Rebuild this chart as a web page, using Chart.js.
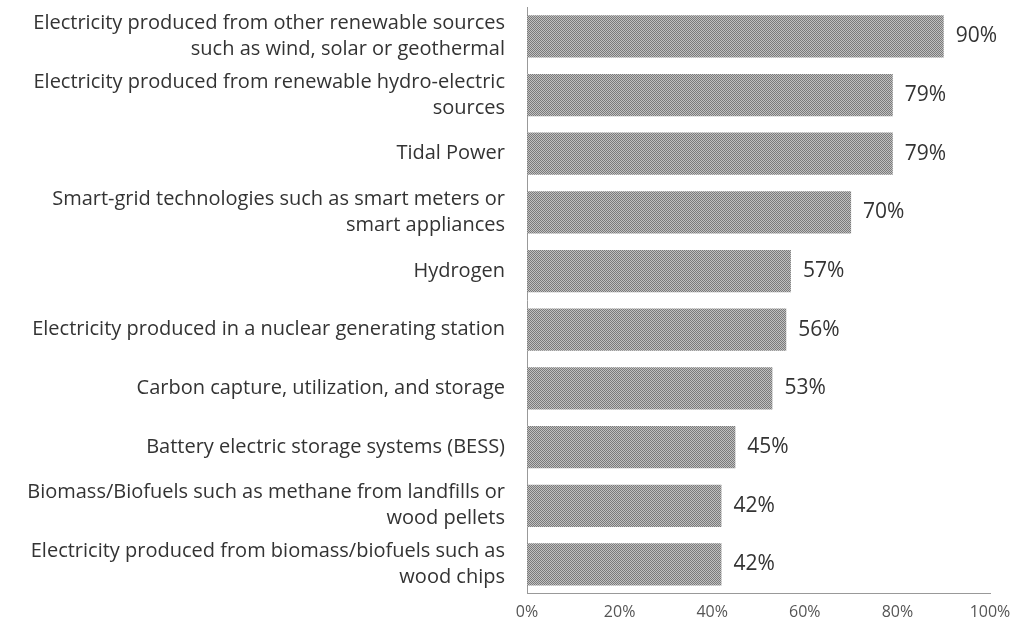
<!DOCTYPE html>
<html>
<head>
<meta charset="utf-8">
<script src="https://cdn.jsdelivr.net/npm/chart.js@4"></script>
<style>
  html, body { margin: 0; padding: 0; background: #fff; }
  #wrap { width: 1029px; height: 627px; }
</style>
</head>
<body>
<div id="wrap"><canvas id="c" width="1029" height="627"></canvas></div>
<script>
const categories = [
  ['Electricity produced from other renewable sources', 'such as wind, solar or geothermal'],
  ['Electricity produced from renewable hydro-electric', 'sources'],
  'Tidal Power',
  ['Smart-grid technologies such as smart meters or', 'smart appliances'],
  'Hydrogen',
  'Electricity produced in a nuclear generating station',
  'Carbon capture, utilization, and storage',
  'Battery electric storage systems (BESS)',
  ['Biomass/Biofuels such as methane from landfills or', 'wood pellets'],
  ['Electricity produced from biomass/biofuels such as', 'wood chips']
];
const support = [90, 79, 79, 70, 57, 56, 53, 45, 42, 42];
const xTicks = [0, 20, 40, 60, 80, 100];

// dithered grey fill like the scanned original
function ditherPattern(ctx) {
  const p = document.createElement('canvas');
  p.width = 2; p.height = 2;
  const pc = p.getContext('2d');
  pc.fillStyle = '#c0c0c0'; pc.fillRect(0, 0, 2, 2);
  pc.fillStyle = '#7a7a7a'; pc.fillRect(0, 0, 1, 1); pc.fillRect(1, 1, 1, 1);
  return ctx.createPattern(p, 'repeat');
}

const valueLabels = {
  id: 'valueLabels',
  afterDatasetsDraw(chart) {
    const ctx = chart.ctx;
    const meta = chart.getDatasetMeta(0);
    ctx.save();
    ctx.font = '21px "Open Sans"';
    ctx.fillStyle = '#333';
    ctx.textBaseline = 'middle';
    meta.data.forEach((bar, i) => {
      ctx.fillText(support[i] + '%', bar.x + 12, bar.y);
    });
    ctx.restore();
  }
};

const ctx = document.getElementById('c').getContext('2d');
new Chart(ctx, {
  type: 'bar',
  data: {
    labels: categories,
    datasets: [{
      data: support,
      backgroundColor: ditherPattern(ctx),
      borderWidth: 0,
      categoryPercentage: 1,
      barPercentage: 0.72
    }]
  },
  options: {
    indexAxis: 'y',
    responsive: false,
    animation: false,
    layout: { padding: { top: 7, right: 39, bottom: 0, left: 0 } },
    plugins: { legend: { display: false }, tooltip: { enabled: false } },
    scales: {
      x: {
        min: 0, max: 100,
        afterBuildTicks(scale) { scale.ticks = xTicks.map(v => ({ value: v })); },
        grid: { display: false, drawTicks: true, tickLength: 4, color: '#aaa' },
        border: { display: true, color: '#999', dash: [1, 2] },
        ticks: {
          callback: v => v + '%',
          font: { family: 'Open Sans', size: 16 },
          color: '#555',
          padding: 5
        }
      },
      y: {
        afterFit(scale) {
          scale.width = 527;
          scale.paddingTop = 0;
          scale.paddingBottom = 0;
        },
        grid: { display: false },
        border: { display: true, color: '#999', dash: [1, 2] },
        ticks: {
          font: { family: 'Open Sans', size: 20, lineHeight: 1.3 },
          color: '#333',
          padding: 14,
          autoSkip: false
        }
      }
    }
  },
  plugins: [valueLabels]
});
</script>
</body>
</html>
